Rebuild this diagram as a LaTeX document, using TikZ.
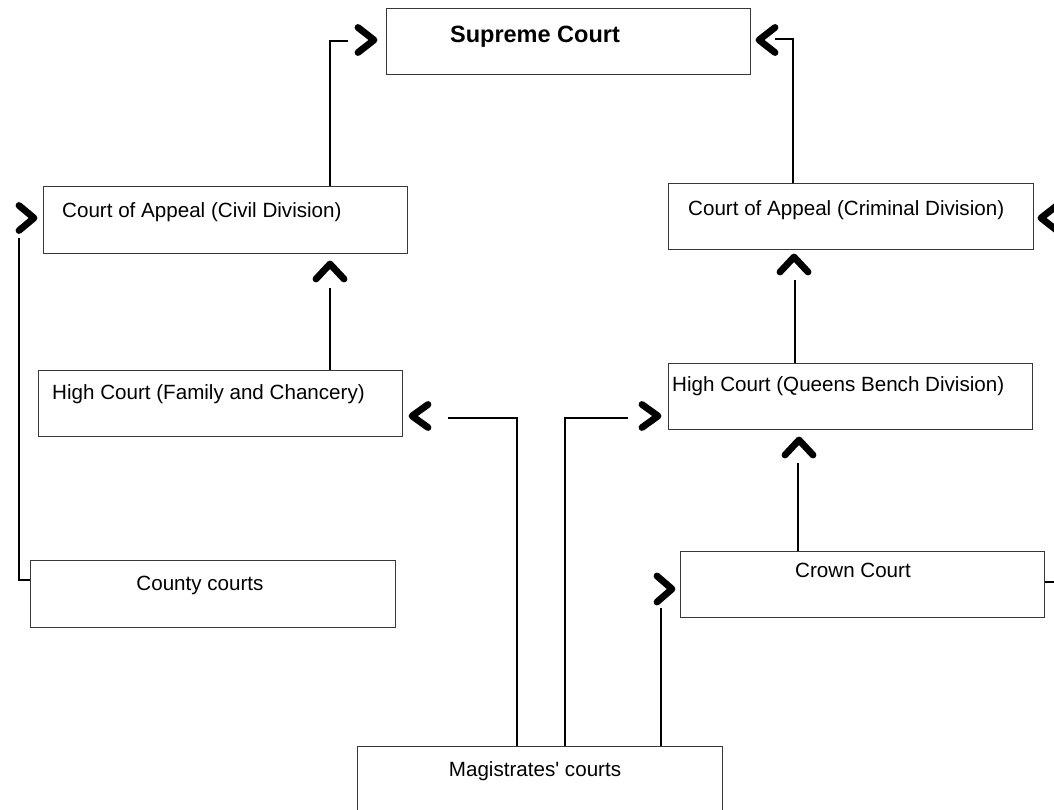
\documentclass[tikz,border=0pt]{standalone}
\usepackage{fontspec}
\setmainfont{Liberation Sans}[Ligatures=TeXOff]
\begin{document}
\begin{tikzpicture}[x=1pt,y=-1pt,
  box/.style={draw=black!78, line width=1.4pt, anchor=north west, inner sep=0pt,
    minimum width=#1, minimum height=66pt},
  box/.default=364pt,
  lbl/.style={inner sep=0pt, font=\fontsize{20.6}{24}\selectfont},
  conn/.style={draw=black, line width=1.1pt},
  chev/.style={draw=black, line width=6.8pt, line cap=round, line join=round}]
\clip (0,0) rectangle (1054,810);
\fill[white] (0,0) rectangle (1054,810);

% boxes
\node[box] (sc)    at (386,8)   {};
\node[box=364pt,minimum height=67pt] (cac) at (43,186) {};
\node[box=365pt] (cacr)  at (668,183) {};
\node[box] (hcf)   at (38,370)  {};
\node[box] (hcq)   at (668,363) {};
\node[box=365pt,minimum height=67pt] (cc) at (30,560) {};
\node[box] (crown) at (680,551) {};
\node[box=365pt,minimum height=90pt] (mag) at (357,746) {};

% labels
\node[lbl, anchor=base, font=\fontsize{23.5}{28}\selectfont\bfseries] (tsc) at (535,43) {Supreme Court};
\node[lbl, anchor=base west] (tcac) at (62,218) {Court of Appeal (Civil Division)};
\node[lbl, anchor=base west] (tcacr) at (688,216) {Court of Appeal (Criminal Division)};
\node[lbl, anchor=base west] (thcf) at (52,399) {High Court (Family and Chancery)};
\node[lbl, anchor=base west] (thcq) at (672,391) {High Court (Queens Bench Division)};
\node[lbl, anchor=base] (tcc) at (200,590) {County courts};
\node[lbl, anchor=base] (tcrown) at (853,577) {Crown Court};
\node[lbl, anchor=base] (tmag) at (535,776) {Magistrates' courts};

% chevron apex points
\coordinate (c1) at (374,40);
\coordinate (c2) at (759,40);
\coordinate (c3) at (34,218);
\coordinate (c4) at (1041,218);
\coordinate (c5) at (330,264);
\coordinate (c6) at (794,257);
\coordinate (c7) at (412,416);
\coordinate (c8) at (658,416);
\coordinate (c9) at (799,440);
\coordinate (c10) at (672,589);

% connector corners
\coordinate (k1) at (330,41);
\coordinate (k2) at (793,39);
\coordinate (k3) at (19,580);
\coordinate (k4) at (517,418);
\coordinate (k5) at (565,418);
\coordinate (x1) at (330,0);
\coordinate (x2) at (795,0);
\coordinate (x3) at (798,0);
\coordinate (x4) at (661,0);

% connectors
\draw[conn] (cac.north -| k1) -- (k1) -- +(18,0);
\draw[conn] (cacr.north -| k2) -- (k2) -- +(-18,0);
\draw[conn] (cc.west |- k3) -- (k3) -- +(0,-342);
\draw[conn] (hcf.north -| x1) -- +(0,-82);
\draw[conn] (hcq.north -| x2) -- +(0,-83);
\draw[conn] (crown.north -| x3) -- +(0,-88);
\draw[conn] (mag.north -| k4) -- (k4) -- +(-69,0);
\draw[conn] (mag.north -| k5) -- (k5) -- +(63,0);
\draw[conn] (mag.north -| x4) -- +(0,-138);
\draw[conn] (crown.east |- 0,582) -- +(20,0);

% chevrons
\draw[chev] (c1) ++(-16,-12.5) -- (c1) -- ++(-16,12.5);
\draw[chev] (c2) ++(16,-12.5) -- (c2) -- ++(16,12.5);
\draw[chev] (c3) ++(-15,-12.5) -- (c3) -- ++(-15,12.5);
\draw[chev] (c4) ++(16,-12.5) -- (c4) -- ++(16,12.5);
\draw[chev] (c5) ++(-14,15) -- (c5) -- ++(14,15);
\draw[chev] (c6) ++(-14,15) -- (c6) -- ++(14,15);
\draw[chev] (c7) ++(16,-11.5) -- (c7) -- ++(16,11.5);
\draw[chev] (c8) ++(-16,-11.5) -- (c8) -- ++(-16,11.5);
\draw[chev] (c9) ++(-14,15) -- (c9) -- ++(14,15);
\draw[chev] (c10) ++(-15,-13) -- (c10) -- ++(-15,13);
\end{tikzpicture}
\end{document}
